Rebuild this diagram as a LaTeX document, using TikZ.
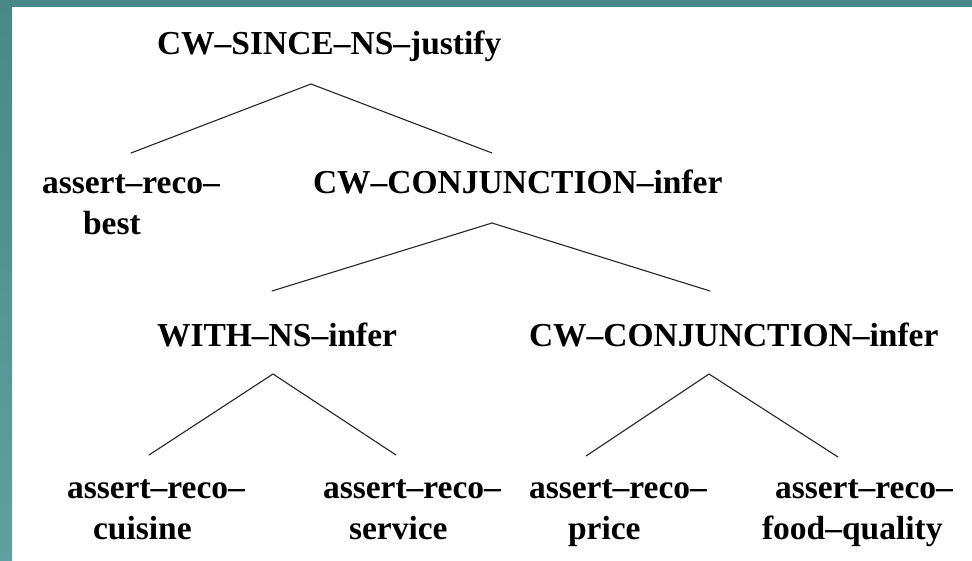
\documentclass[tikz,border=0pt]{standalone}
\usepackage{fontspec}
\setmainfont{Liberation Serif}
\definecolor{frametop}{HTML}{488888}
\definecolor{framebot}{HTML}{5FA0A0}
\tikzset{
  lbl/.style={anchor=base west, inner sep=0pt, outer sep=0pt,
              font=\fontsize{33.5}{40}\selectfont\bfseries},
  branch/.style={line width=1.1pt, black!85, line cap=round, line join=miter}
}
\begin{document}
\begin{tikzpicture}[x=1pt, y=-1pt]
  \useasboundingbox (0,0) rectangle (972,561);
  % slide frame
  \fill[white] (0,0) rectangle (972,561);
  \shade[top color=frametop, bottom color=framebot] (0,0) rectangle (12,561);
  \fill[frametop] (0,0) rectangle (972,7);

  % level 1
  \node[lbl] (root) at (157,55) {CW–SINCE–NS–justify};

  % level 2
  \node[lbl] (best)  at (42,194) {assert–reco–};
  \node[lbl] (bestb) at (83,235) {best};
  \node[lbl] (conjA) at (313,194) {CW–CONJUNCTION–infer};

  % level 3
  \node[lbl] (with)  at (157,346) {WITH–NS–infer};
  \node[lbl] (conjB) at (529,346) {CW–CONJUNCTION–infer};

  % level 4 (leaves)
  \node[lbl] (cui)   at (67,498)  {assert–reco–};
  \node[lbl] (cuib)  at (93,539)  {cuisine};
  \node[lbl] (ser)   at (323,498) {assert–reco–};
  \node[lbl] (serb)  at (349,539) {service};
  \node[lbl] (pri)   at (529,498) {assert–reco–};
  \node[lbl] (prib)  at (568,539) {price};
  \node[lbl] (foo)   at (775,498) {assert–reco–};
  \node[lbl] (foob)  at (762,539) {food–quality};

  % branch points
  \coordinate (rootApex) at (311,84);
  \coordinate (bestTop)  at (131,153);
  \coordinate (conjATop) at (492,153);

  \coordinate (conjAApex) at (492,223);
  \coordinate (withTop)   at (272,291);
  \coordinate (conjBTop)  at (710,291);

  \coordinate (withApex) at (273,374);
  \coordinate (cuiTop)   at (149,455);
  \coordinate (serTop)   at (396,455);

  \coordinate (conjBApex) at (709,374);
  \coordinate (priTop)    at (586,456);
  \coordinate (fooTop)    at (838,457);

  % tree branches
  \draw[branch] (bestTop) -- (rootApex) -- (conjATop);
  \draw[branch] (withTop) -- (conjAApex) -- (conjBTop);
  \draw[branch] (cuiTop) -- (withApex) -- (serTop);
  \draw[branch] (priTop) -- (conjBApex) -- (fooTop);
\end{tikzpicture}
\end{document}
